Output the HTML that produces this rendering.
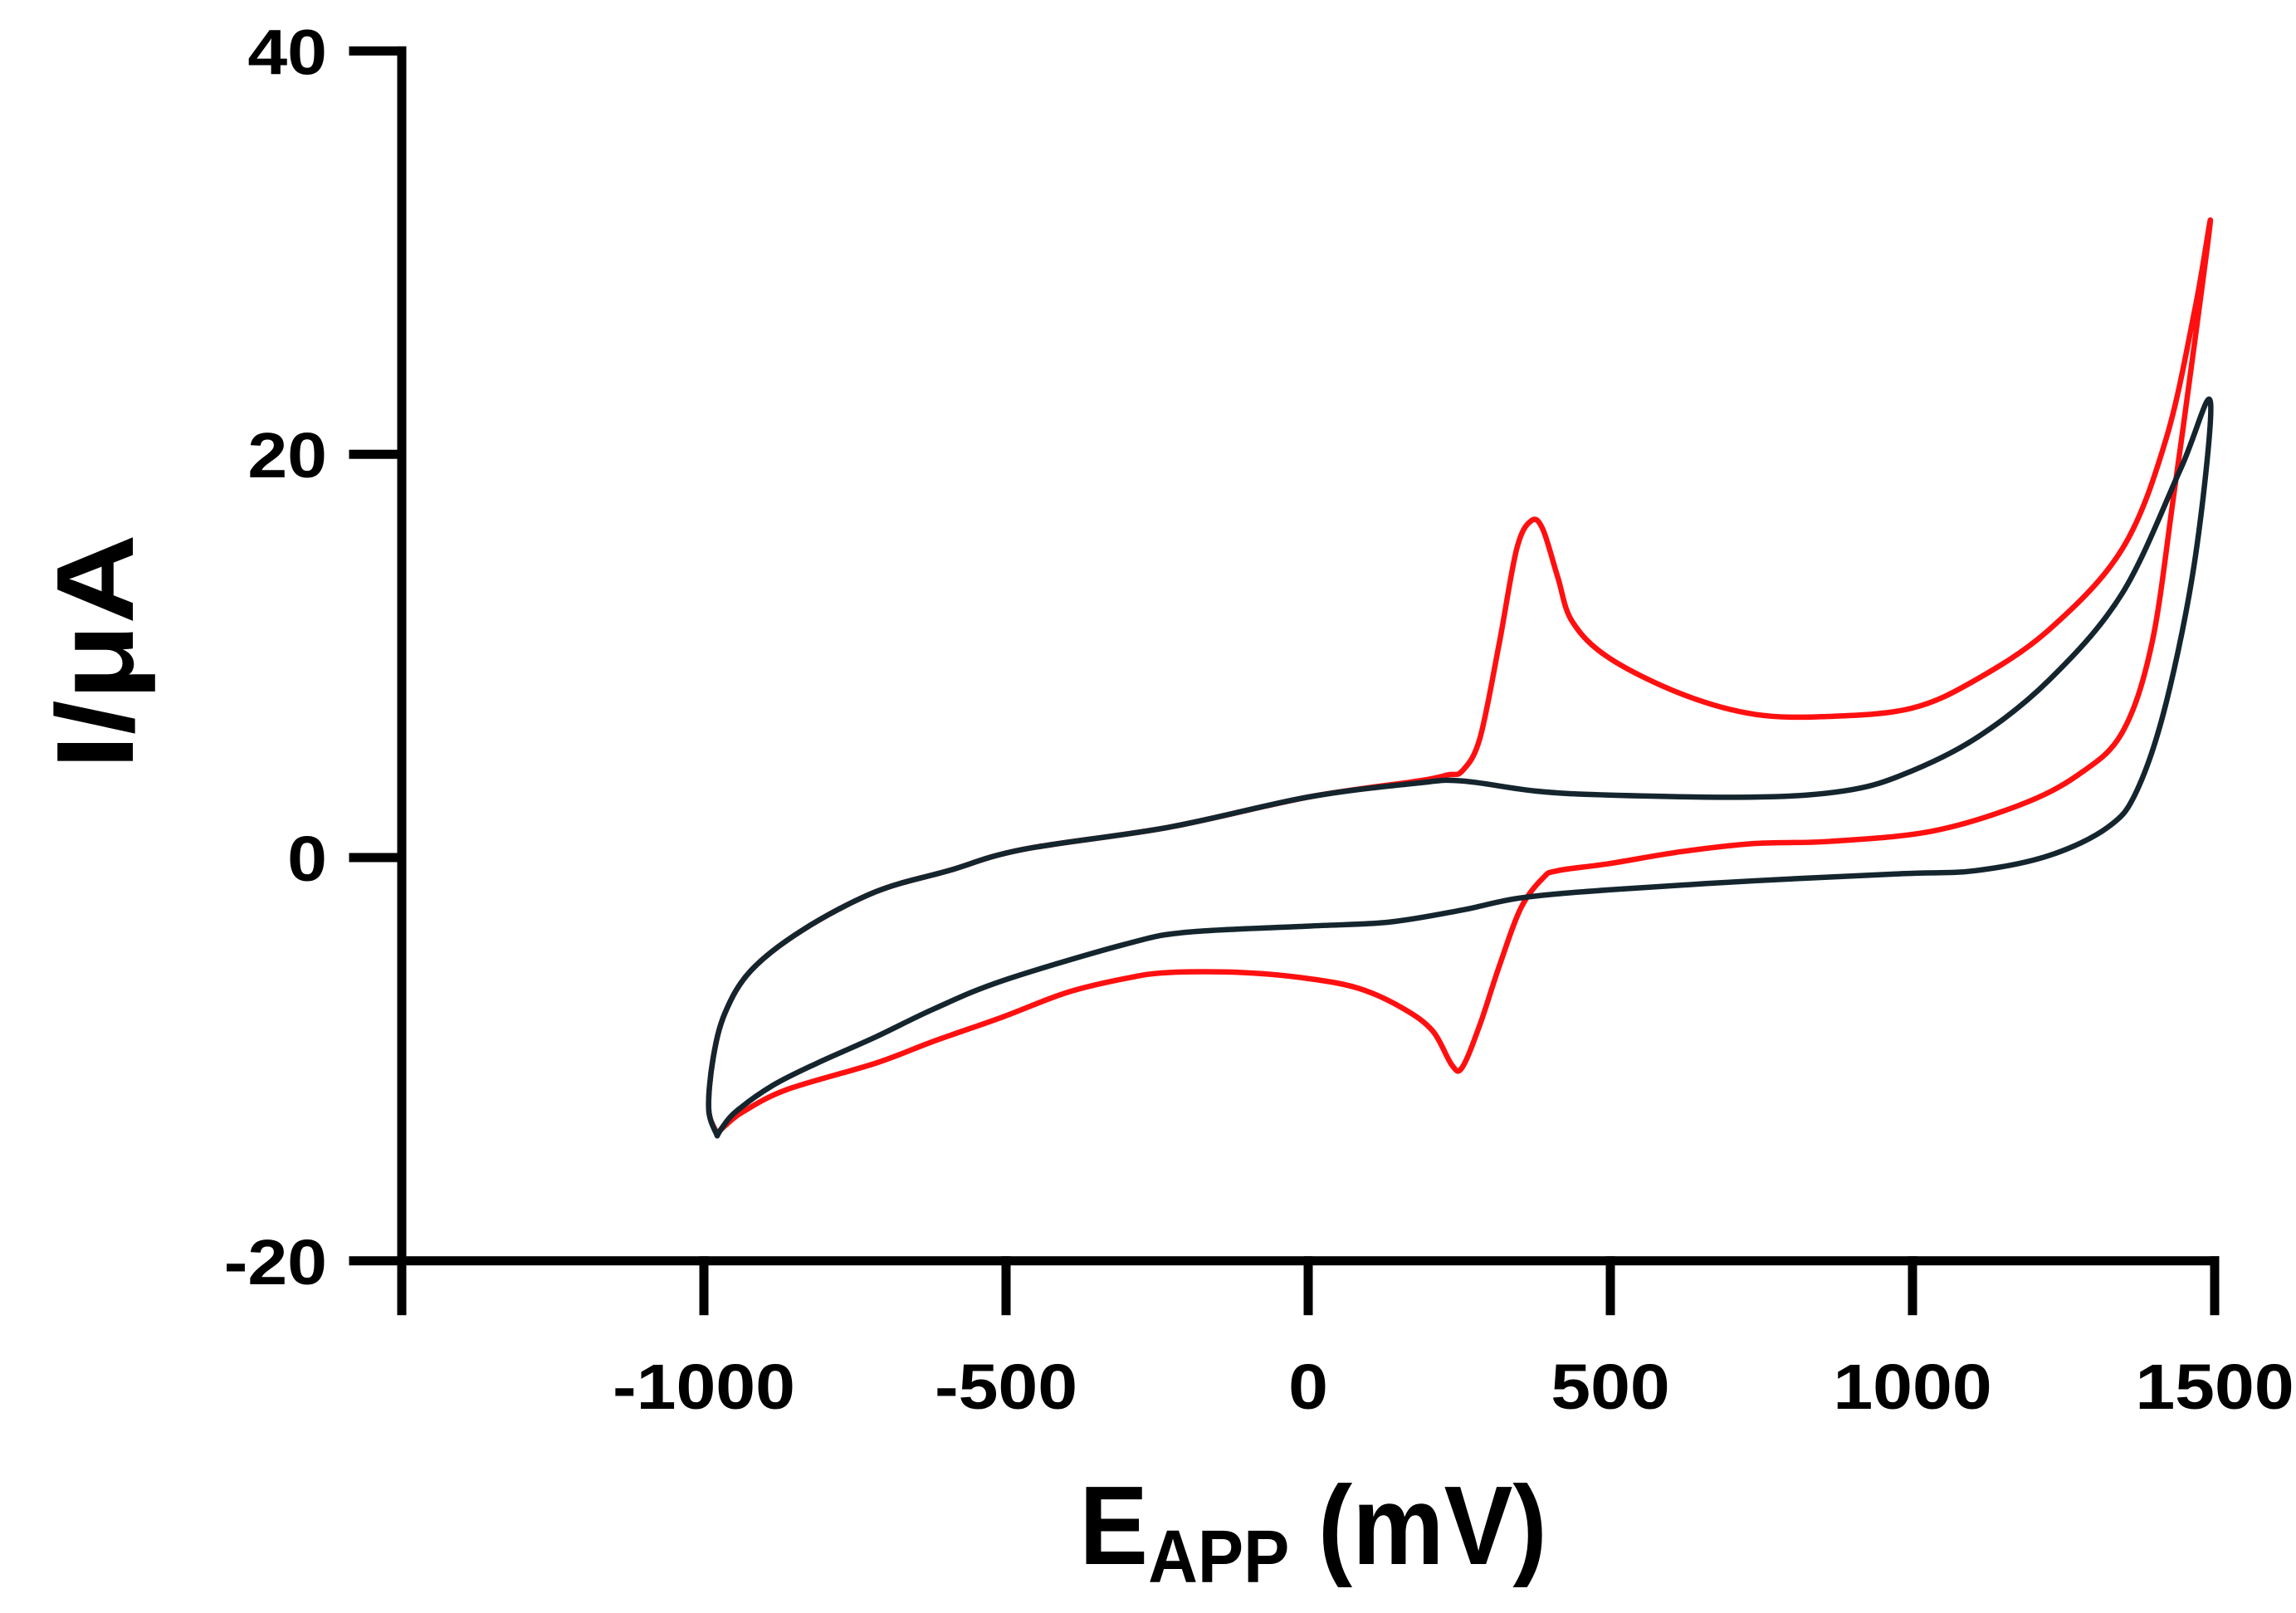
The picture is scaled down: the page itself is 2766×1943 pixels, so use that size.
<!DOCTYPE html>
<html><head><meta charset="utf-8"><style>
html,body{margin:0;padding:0;background:#fff;}
svg{display:block;}
text{font-family:"Liberation Sans",Arial,sans-serif;font-weight:bold;fill:#000;}
</style></head><body>
<svg id="chart" width="2766" height="1943" viewBox="0 0 2766 1943" xmlns="http://www.w3.org/2000/svg">
<g id="axes"></g>
<g id="series"></g>
<text transform="translate(160,785) rotate(-90) scale(1,0.88)" text-anchor="middle" font-size="150">I/μA</text>
<text transform="translate(1582,1884) scale(0.92,1)" text-anchor="middle" font-size="135">E<tspan font-size="90" dy="22">APP</tspan><tspan dy="-22"> (mV)</tspan></text>
</svg>
<script>
const xTicks = [-1000, -500, 0, 500, 1000, 1500];
const yTicks = [-20, 0, 20, 40];
const redE = [-978,-992,-985,-965,-922,-837,-716,-595,-473,-231,0,182,231,255,284,316,345,369,388,413,437,498,619,740,862,998,1104,1226,1347,1420,1468,1493,1468,1432,1396,1347,1274,1177,1031,862,740,619,498,413,389,352,316,284,255,238,206,158,85,0,-109,-231,-303,-400,-505,-619,-716,-862,-935,-965,-978];
const redI = [-13.7,-12.5,-10.0,-7.7,-5.6,-3.6,-1.7,-0.65,0.4,1.5,3.0,3.8,4.1,4.3,5.9,10.6,15.3,16.7,16.3,13.9,11.7,9.9,8.1,7.1,7.0,7.4,8.8,11.3,15.3,20.8,27.3,31.6,25.8,17.9,10.6,6.2,4.1,2.6,1.3,0.8,0.7,0.3,-0.3,-0.65,-1.0,-2.5,-5.4,-8.3,-10.4,-10.3,-8.6,-7.5,-6.5,-6.0,-5.7,-5.7,-6.0,-6.7,-7.9,-9.1,-10.2,-11.5,-12.6,-13.3,-13.7];
const darkE = [-978,-992,-985,-965,-922,-837,-716,-595,-473,-231,0,182,255,376,498,740,886,983,1104,1226,1347,1444,1493,1468,1420,1371,1323,1226,1104,983,740,498,352,255,134,0,-200,-303,-505,-619,-716,-813,-886,-947,-970,-978];
const darkI = [-13.8,-12.5,-10.0,-7.7,-5.6,-3.6,-1.7,-0.65,0.4,1.5,3.0,3.7,3.8,3.3,3.1,3.0,3.3,4.1,5.9,8.8,13.1,19.3,22.6,14.9,7.7,3.3,1.5,0.1,-0.65,-0.8,-1.15,-1.6,-2.0,-2.6,-3.2,-3.4,-3.7,-4.3,-6.1,-7.5,-8.9,-10.2,-11.3,-12.6,-13.4,-13.8];

const NS = "http://www.w3.org/2000/svg";
const X0 = 484, XA = 848, XPER = 0.728;
const Y0 = 1033, YPER = 24.29;
function sx(e){ return XA + (e + 1000) * XPER; }
function sy(i){ return Y0 - i * YPER; }
const axes = document.getElementById('axes');
function line(x1,y1,x2,y2,name){
  const l = document.createElementNS(NS,'line');
  l.setAttribute('x1',x1);l.setAttribute('y1',y1);l.setAttribute('x2',x2);l.setAttribute('y2',y2);
  l.setAttribute('stroke','#000');l.setAttribute('stroke-width','11');l.setAttribute('stroke-linecap','square');
  
  
  axes.appendChild(l);
}
function label(x,y,txt,anchor,name){
  const t = document.createElementNS(NS,'text');
  t.setAttribute('transform','translate('+x+','+y+') scale(1,0.9)');
  t.setAttribute('text-anchor',anchor);t.setAttribute('font-size','86');
  t.textContent = txt;
  
  
  axes.appendChild(t);
}
line(X0, sy(40), X0, sy(-20), 'y-axis-line');
line(X0, sy(-20), sx(1500), sy(-20), 'x-axis-line');
yTicks.forEach(v=>{
  line(X0-58, sy(v), X0, sy(v), 'y-tick');
  label(X0-90, sy(v)+28, String(v), 'end', 'y-tick-label');
});
line(X0, sy(-20), X0, sy(-20)+60, 'x-axis-origin-tick');
xTicks.forEach(v=>{
  line(sx(v), sy(-20), sx(v), sy(-20)+60, 'x-tick');
  label(sx(v), 1697, String(v), 'middle', 'x-tick-label');
});
function pathFrom(E, I){
  const p = E.map((e,k)=>[sx(e), sy(I[k])]);
  let d = 'M'+p[0][0]+','+p[0][1];
  for(let k=0;k<p.length-1;k++){
    const a=p[Math.max(k-1,0)], b=p[k], c=p[k+1], n=p[Math.min(k+2,p.length-1)];
    const c1=[b[0]+(c[0]-a[0])/6, b[1]+(c[1]-a[1])/6];
    const c2=[c[0]-(n[0]-b[0])/6, c[1]-(n[1]-b[1])/6];
    d+=' C'+c1[0]+','+c1[1]+' '+c2[0]+','+c2[1]+' '+c[0]+','+c[1];
  }
  return d;
}
const series = document.getElementById('series');
function addSeries(E,I,color,name){
  const pa = document.createElementNS(NS,'path');
  pa.setAttribute('d', pathFrom(E,I));
  pa.setAttribute('fill','none');pa.setAttribute('stroke',color);pa.setAttribute('stroke-width','6.5');
  pa.setAttribute('stroke-linejoin','round');pa.setAttribute('stroke-linecap','round');
  
  
  series.appendChild(pa);
}
addSeries(redE, redI, '#ff1010', 'red-voltammogram-line');
addSeries(darkE, darkI, '#14252e', 'dark-voltammogram-line');
</script>
</body></html>
